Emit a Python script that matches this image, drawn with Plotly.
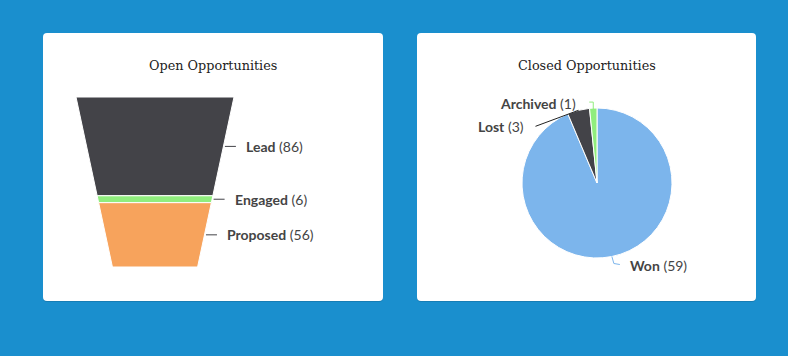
import math
import plotly.graph_objects as go

W, H = 788, 356
BG = "#1a8fce"

# ---------------- data ----------------
funnel_stages = ["Lead", "Engaged", "Proposed"]
funnel_values = [86, 6, 56]
funnel_colors = ["#434348", "#90ed7d", "#f7a35c"]

pie_labels = ["Won", "Lost", "Archived"]
pie_values = [59, 3, 1]
pie_colors = ["#7cb5ec", "#434348", "#90ed7d"]

titles = ["Open Opportunities", "Closed Opportunities"]

# ---------------- layout geometry (px) ----------------
cards = [(43, 33, 383, 301), (417, 33, 756, 301)]
F_TOP, F_BOT = 97, 267          # funnel vertical extent
F_CX, F_HALF = 155, 79          # funnel centre and top half-width
NECK_RATIO = 0.539              # bottom width / top width
P_CX, P_CY, P_R = 597, 183, 75  # pie centre & radius

def px(x):
    return x / W

def py(y):
    return 1 - y / H

fig = go.Figure()

# ---------------- funnel (drawn as filled polygons on scaled axes) ----------------
total = sum(funnel_values)

def half_width(v):
    return 1 - (1 - NECK_RATIO) * v / total

cum = 0
for name, val, col in zip(funnel_stages, funnel_values, funnel_colors):
    y0, y1 = cum, cum + val
    xs = [-half_width(y0), half_width(y0), half_width(y1), -half_width(y1), -half_width(y0)]
    ys = [y0, y0, y1, y1, y0]
    fig.add_trace(go.Scatter(
        x=xs, y=ys, fill="toself", fillcolor=col, mode="lines",
        line=dict(color="white", width=1), hoverinfo="skip", showlegend=False,
        xaxis="x", yaxis="y"))
    cum = y1

fig.update_layout(
    xaxis=dict(domain=[px(F_CX - F_HALF), px(F_CX + F_HALF)], range=[-1, 1],
               visible=False, fixedrange=True),
    yaxis=dict(domain=[py(F_BOT), py(F_TOP)], range=[total, 0],
               visible=False, fixedrange=True),
)

shapes = []
annotations = []

# card backgrounds with rounded corners
def rounded(x0, y0, x1, y1, r=4):
    X0, X1 = px(x0), px(x1)
    Y0, Y1 = py(y0), py(y1)
    rx, ry = r / W, r / H
    return (f"M {X0+rx},{Y0} L {X1-rx},{Y0} Q {X1},{Y0} {X1},{Y0-ry} "
            f"L {X1},{Y1+ry} Q {X1},{Y1} {X1-rx},{Y1} L {X0+rx},{Y1} "
            f"Q {X0},{Y1} {X0},{Y1+ry} L {X0},{Y0-ry} Q {X0},{Y0} {X0+rx},{Y0} Z")

for (x0, y0, x1, y1) in cards:
    shapes.append(dict(type="path", path=rounded(x0, y0 + 1, x1, y1 + 1, 4), xref="paper", yref="paper",
                       fillcolor="rgba(0,0,0,0.12)", line=dict(width=0), layer="below"))
    shapes.append(dict(type="path", path=rounded(x0, y0, x1, y1, 4), xref="paper", yref="paper",
                       fillcolor="white", line=dict(width=0), layer="below"))

# titles
for (x0, y0, x1, y1), t in zip(cards, titles):
    annotations.append(dict(text=t, x=px((x0 + x1) / 2), y=py(65), xref="paper", yref="paper",
                            showarrow=False, xanchor="center", yanchor="middle",
                            font=dict(family="DejaVu Serif", size=12.8, color="#222222")))

LABEL_FONT = dict(family="Lato", size=14, color="#444444")

# funnel labels + connectors
cum = 0
for name, val, col in zip(funnel_stages, funnel_values, funnel_colors):
    mid = cum + val / 2
    y_px = F_TOP + (F_BOT - F_TOP) * mid / total
    edge_px = F_CX + F_HALF * half_width(mid)
    shapes.append(dict(type="line", xref="paper", yref="paper",
                       x0=px(edge_px + 1.5), x1=px(edge_px + 12.5), y0=py(y_px), y1=py(y_px),
                       line=dict(color="#434348", width=1)))
    annotations.append(dict(text=f"<b>{name}</b> ({val})", x=px(edge_px + 21), y=py(y_px),
                            xref="paper", yref="paper", showarrow=False,
                            xanchor="left", yanchor="middle", font=LABEL_FONT))
    cum += val

# ---------------- pie ----------------
fig.add_trace(go.Pie(
    labels=pie_labels, values=pie_values, sort=False, direction="clockwise", rotation=0,
    marker=dict(colors=pie_colors, line=dict(color="white", width=1)),
    textinfo="none", hoverinfo="label+value", showlegend=False,
    domain=dict(x=[px(P_CX - P_R), px(P_CX + P_R)], y=[py(P_CY + P_R), py(P_CY - P_R)])))

# pie labels & connectors (anchored on slice mid-angles)
ptotal = sum(pie_values)
label_specs = {
    "Won": dict(path=[(0, 0), (2, 7), (8, 8)], text=(16, 9), anchor="left"),
    "Lost": dict(path=[(0, 0), (-43, 16)], text=(-52, 16), anchor="right"),
    "Archived": dict(path=[(0, 2), (0, -6), (-4, -6)], text=(-15, -5), anchor="right"),
}
cum = 0
for name, val, col in zip(pie_labels, pie_values, pie_colors):
    ang = 2 * math.pi * (cum + val / 2) / ptotal
    rx = P_CX + P_R * math.sin(ang)
    ry = P_CY - P_R * math.cos(ang)
    spec = label_specs[name]
    pts = [(rx + dx, ry + dy) for dx, dy in spec["path"]]
    path = "M " + " L ".join(f"{px(x)},{py(y)}" for x, y in pts)
    shapes.append(dict(type="path", path=path, xref="paper", yref="paper",
                       line=dict(color=col if name != "Lost" else "#222222", width=1)))
    tx, ty = spec["text"]
    annotations.append(dict(text=f"<b>{name}</b> ({val})", x=px(rx + tx), y=py(ry + ty),
                            xref="paper", yref="paper", showarrow=False,
                            xanchor=spec["anchor"], yanchor="middle", font=LABEL_FONT))
    cum += val

fig.update_layout(
    width=W, height=H, margin=dict(l=0, r=0, t=0, b=0, pad=0),
    paper_bgcolor=BG, plot_bgcolor="rgba(0,0,0,0)",
    shapes=shapes, annotations=annotations,
)

fig.write_html("out.html", config=dict(displayModeBar=False),
               post_script="document.body.style.margin='0';document.body.style.background='" + BG + "';")
